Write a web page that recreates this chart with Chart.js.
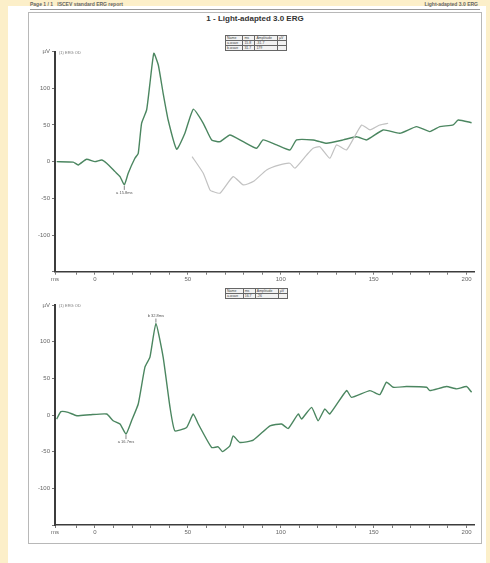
<!DOCTYPE html>
<html><head><meta charset="utf-8">
<script src="https://cdn.jsdelivr.net/npm/chart.js@4.4.0/dist/chart.umd.min.js"></script>
<style>
html,body{margin:0;padding:0;width:490px;height:563px;overflow:hidden;background:#fcefc9;font-family:"Liberation Sans",Arial,sans-serif}
#paper{position:absolute;left:8px;top:6px;width:478px;height:557px;background:#fff}
#frame{position:absolute;left:28px;top:12px;width:454px;height:532px;border:1px solid #b8b8b8;box-sizing:border-box}
#hdr{position:absolute;left:30px;top:1px;width:450px;font-size:5px;font-weight:bold;color:#666;white-space:nowrap;border-bottom:1px solid #999;height:8px;line-height:7px}
#hdr span.r{position:absolute;right:2px;top:0}
#title{position:absolute;left:150px;width:210px;top:14px;text-align:center;font-size:8px;font-weight:bold;color:#333}
table.t{position:absolute;border-collapse:collapse;font-size:3.5px;color:#444;line-height:4px;border:1px solid #555}
table.t td{border:1px solid #666;padding:0 1px;height:4px;background:#f2f2f2}
canvas{position:absolute;left:0}
</style></head>
<body>
<div id="paper"></div>
<div id="frame"></div>
<div id="hdr">Page 1 / 1 &nbsp; ISCEV standard ERG report<span class="r">Light-adapted 3.0 ERG</span></div>
<div id="title">1 - Light-adapted 3.0 ERG</div>
<table class="t" style="left:225px;top:35px;width:62px">
<tr><td>Name</td><td>ms</td><td>Amplitude</td><td>µV</td></tr>
<tr><td>a-wave</td><td>15.8</td><td>-31.7</td><td></td></tr>
<tr><td>b-wave</td><td>31.7</td><td>179</td><td></td></tr>
</table>
<table class="t" style="left:225px;top:288px;width:63px">
<tr><td>Name</td><td>ms</td><td>Amplitude</td><td>µV</td></tr>
<tr><td>a-wave</td><td>16.7</td><td>-26</td><td></td></tr>
</table>
<canvas id="c1" width="490" height="255" style="top:30px"></canvas>
<canvas id="c2" width="490" height="258" style="top:285px"></canvas>
<script>
// ---- data (time ms, amplitude µV) ----
const topGreenT = [-20.6,-11.7,-9,-4.5,0,3.6,6.3,10.8,13.5,15.8,17.9,21.5,23.3,25.1,27.8,29.6,31.7,34.1,36.7,39.4,44,48.4,52.9,58.3,62.8,67.3,72.6,79.8,87,90.5,97.8,104.9,108.5,117.4,121,124.7,133.6,140.8,146.2,155.1,164.1,173.1,180.2,185.6,192.8,195.5,202.7];
const topGreenV = [0,-0.7,-4.5,3.3,0,2.3,-2.2,-13.6,-20.4,-31.7,-15.8,4.6,11.4,52.3,70.4,106.8,147.7,131.7,93.2,56.8,16.9,38.7,71.4,52.3,29.6,27.2,36.4,27.2,18.3,29.6,22.8,15.9,29.6,29.6,27.2,25,29.6,34,29.6,43.2,38.7,47.7,40.9,47.7,50,56.8,53.1];
const topGrayT = [52.3,58.3,61.9,63.6,67.3,74.4,79.8,85.2,92.4,99.5,104.9,107.6,113.9,117.4,121,126.4,130,135.4,143.5,148,153.3,157.8];
const topGrayV = [6.8,-15.8,-38.6,-40.9,-43,-20.4,-31.7,-27.2,-11.3,-4.5,-2.2,-9,9,18.3,20.4,4.6,22.8,15.9,50,43.2,50,52.3];
const botGreenT = [-20.6,-18.3,-14.4,-9.8,-2.7,6.3,9.8,13.5,16.7,19.7,23.3,26.9,29.6,32.8,36.7,40.4,43,49.3,52.9,55.6,62.8,66.3,68.7,72.6,74.4,78,85.2,94.2,100.4,104,109.4,111.2,116.6,120.1,123.7,126.4,135.4,138.1,148,153.3,156.9,160.5,167.7,178.5,180.2,189.2,194.6,200,202.7];
const botGreenV = [-5.5,4.5,3.6,-1,0.4,1.4,-7.8,-12.3,-26,-7.8,15,65.2,78.9,124.7,78.9,10.4,-21.5,-17,1.4,-12.3,-44.4,-43.4,-49.9,-42,-28.4,-37.5,-34.3,-14.7,-12.3,-18.4,1.4,-5.5,10.4,-7.8,8.2,1.4,33.3,24.1,33.3,27.8,44.7,37.8,38.8,37.8,33.3,38.8,35.6,38.8,31];
const xTickValues = [-21.5,-10,0,10,20,30,40,50,60,70,80,90,100,110,120,130,140,150,160,170,180,190,200];
const xTickLabels = {'-21.5':'ms', 0:'0', 50:'50', 100:'100', 150:'150', 200:'200'};
const yTickLabels = {150:'µV', 100:'100', 50:'50', 0:'0', '-50':'-50', '-100':'-100', '-150':''};
const topMarkers = [{t:15.8, v:-31.7, text:'a 15.8ms', pos:'below'}];
const botMarkers = [{t:16.7, v:-26, text:'a 16.7ms', pos:'below'},{t:32.8, v:124.7, text:'b 32.8ms', pos:'above'}];
const chanLabel = '(1) ERG OD';

const pts = (T,V) => T.map((t,i)=>({x:t,y:V[i]}));

const annPlugin = {
  id:'ann',
  afterDatasetsDraw(chart, args, opts){
    const ctx = chart.ctx, xs = chart.scales.x, ys = chart.scales.y;
    ctx.save();
    ctx.font = '4px "Liberation Sans", Arial, sans-serif';
    ctx.fillStyle = '#555'; ctx.textAlign='center';
    (opts.markers||[]).forEach(m=>{
      const px = xs.getPixelForValue(m.t), py = ys.getPixelForValue(m.v);
      ctx.strokeStyle='#666'; ctx.lineWidth=0.8;
      ctx.beginPath();
      if(m.pos==='below'){ ctx.moveTo(px,py+1); ctx.lineTo(px,py+5); ctx.stroke(); ctx.fillText(m.text, px, py+9); }
      else { ctx.moveTo(px,py-1); ctx.lineTo(px,py-5); ctx.stroke(); ctx.fillText(m.text, px, py-7); }
    });
    ctx.textAlign='left'; ctx.fillStyle='#777';
    ctx.fillText(opts.chan||'', chart.chartArea.left+4, ys.getPixelForValue(150)+2);
    ctx.restore();
  }
};

function makeChart(id, datasets, padTop, xH, markers){
  return new Chart(document.getElementById(id), {
    type:'line',
    data:{datasets},
    plugins:[annPlugin],
    options:{
      responsive:false, animation:false, devicePixelRatio:1,
      layout:{padding:{top:padTop, left:0, right:16, bottom:0}},
      plugins:{legend:{display:false}, tooltip:{enabled:false}, ann:{markers, chan:chanLabel}},
      elements:{point:{radius:0}, line:{tension:0.15}},
      scales:{
        x:{type:'linear', min:-21.5, max:204,
           afterFit(s){ s.height = xH; },
           afterBuildTicks(s){ s.ticks = xTickValues.map(v=>({value:v})); },
           ticks:{autoSkip:false, maxRotation:0, padding:1, color:'#666', font:{size:6, family:'"Liberation Sans", Arial'},
                  callback:v => xTickLabels[String(v)] !== undefined ? xTickLabels[String(v)] : ''},
           grid:{drawOnChartArea:false, drawTicks:true, tickLength:3, color:'#777'},
           border:{display:true, color:'#3c3c3c', width:1.5}},
        y:{min:-150, max:150,
           afterFit(s){ s.width = 55; },
           ticks:{stepSize:50, padding:2, color:'#666', font:{size:6, family:'"Liberation Sans", Arial'},
                  callback:v => yTickLabels[String(v)] !== undefined ? yTickLabels[String(v)] : ''},
           grid:{drawOnChartArea:false, drawTicks:true, tickLength:3, color:'#777'},
           border:{display:true, color:'#3c3c3c', width:2}}
      }
    }
  });
}

makeChart('c1', [
  {data:pts(topGrayT, topGrayV), borderColor:'#c2c2c2', borderWidth:1.2, fill:false},
  {data:pts(topGreenT, topGreenV), borderColor:'#4b8660', borderWidth:1.4, fill:false}
], 21.6, 13.3, topMarkers);

makeChart('c2', [
  {data:pts(botGreenT, botGreenV), borderColor:'#4b8660', borderWidth:1.4, fill:false}
], 20, 18, botMarkers);
</script>
</body></html>
